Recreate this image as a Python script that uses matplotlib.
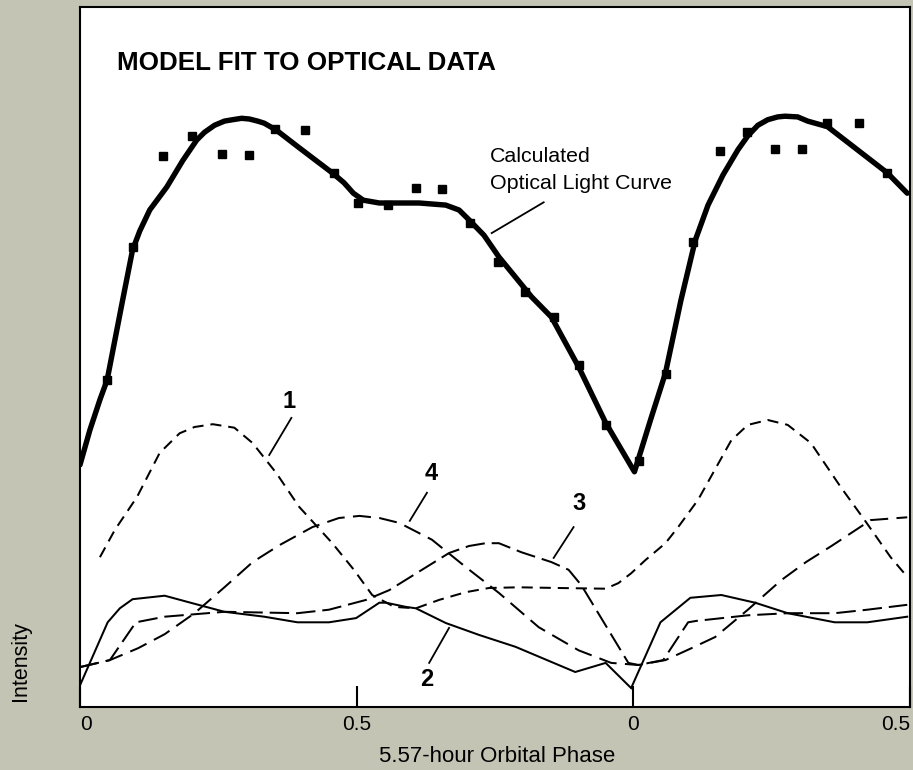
import matplotlib
matplotlib.use("Agg")
import matplotlib.pyplot as plt

# ---------------- data (phase, intensity in arbitrary units) ----------------
fit_phase = [0.000, 0.018, 0.036, 0.049, 0.063, 0.077, 0.095, 0.108, 0.126, 0.157,
             0.186, 0.211, 0.225, 0.243, 0.261, 0.276, 0.292, 0.306, 0.321, 0.333,
             0.355, 0.396, 0.456, 0.477, 0.494, 0.512, 0.541, 0.613, 0.661, 0.685,
             0.703, 0.730, 0.757, 0.784, 0.816, 0.852, 0.901, 0.950, 1.002, 1.031,
             1.058, 1.086, 1.112, 1.135, 1.162, 1.189, 1.207, 1.225, 1.243, 1.261,
             1.274, 1.297, 1.315, 1.333, 1.351, 1.405, 1.459, 1.495]
fit_int = [34.6, 39.6, 43.9, 46.7, 52.4, 58.1, 65.3, 68.0, 71.0, 74.3,
           78.1, 81.0, 82.1, 83.1, 83.7, 83.9, 84.1, 84.0, 83.7, 83.4,
           82.4, 79.9, 76.3, 74.9, 73.4, 72.4, 72.0, 72.0, 71.7, 71.0,
           69.6, 67.4, 64.3, 61.7, 58.6, 55.7, 48.6, 40.6, 33.6, 41.0,
           47.7, 58.1, 66.7, 71.7, 76.0, 79.6, 81.6, 83.1, 83.9, 84.3,
           84.4, 84.3, 83.7, 83.3, 82.9, 79.6, 76.3, 73.4]

obs_phase = [0.049, 0.095, 0.150, 0.202, 0.256, 0.305, 0.353, 0.407, 0.459, 0.503,
             0.557, 0.607, 0.654, 0.705, 0.755, 0.804, 0.856, 0.901, 0.950, 1.011,
             1.059, 1.108, 1.157, 1.205, 1.256, 1.305, 1.350, 1.407, 1.458]
obs_int = [46.7, 65.7, 78.7, 81.6, 79.0, 78.9, 82.6, 82.4, 76.3, 72.0,
           71.7, 74.1, 74.0, 69.1, 63.6, 59.3, 55.7, 48.9, 40.3, 35.1,
           47.6, 66.4, 79.4, 82.1, 79.7, 79.7, 83.4, 83.4, 76.3]

c1_phase = [0.036, 0.063, 0.103, 0.144, 0.180, 0.207, 0.240, 0.279, 0.312, 0.355,
            0.396, 0.456, 0.495, 0.528, 0.568, 0.607, 0.649, 0.697, 0.739, 0.793,
            0.865, 0.950, 0.973, 0.996, 1.022, 1.058, 1.081, 1.117, 1.177, 1.207,
            1.243, 1.279, 1.321, 1.375, 1.418, 1.465, 1.495]
c1_int = [21.4, 25.3, 30.0, 36.3, 39.1, 40.0, 40.4, 39.9, 37.7, 33.4,
          28.6, 23.4, 19.6, 16.0, 14.3, 14.1, 15.3, 16.4, 17.0, 17.1,
          17.0, 16.9, 17.7, 19.1, 21.0, 23.4, 25.7, 29.6, 38.1, 40.3,
          41.0, 40.3, 37.7, 31.4, 26.7, 21.4, 18.6]

c2_phase = [0.000, 0.050, 0.072, 0.095, 0.153, 0.195, 0.261, 0.333, 0.393, 0.450,
            0.499, 0.541, 0.553, 0.589, 0.607, 0.661, 0.721, 0.787, 0.895, 0.950,
            0.996, 1.049, 1.103, 1.159, 1.220, 1.279, 1.364, 1.423, 1.495]
c2_int = [3.1, 12.1, 14.1, 15.4, 15.9, 15.0, 13.6, 12.9, 12.1, 12.1,
          12.7, 14.9, 14.9, 14.3, 14.1, 12.0, 10.3, 8.6, 5.0, 6.3,
          2.7, 12.1, 15.6, 16.0, 14.9, 13.4, 12.1, 12.1, 12.9]

c3_phase = [0.000, 0.054, 0.101, 0.153, 0.261, 0.393, 0.450, 0.517, 0.559, 0.618,
            0.667, 0.703, 0.733, 0.757, 0.798, 0.852, 0.883, 0.906, 0.991, 1.009,
            1.054, 1.099, 1.114, 1.207, 1.279, 1.364, 1.423, 1.495]
c3_int = [5.7, 6.7, 12.1, 12.9, 13.6, 13.4, 13.9, 15.3, 16.7, 19.6,
          22.0, 23.0, 23.4, 23.4, 22.1, 20.7, 19.6, 17.4, 6.3, 6.0,
          6.7, 12.1, 12.3, 13.1, 13.4, 13.4, 13.9, 14.6]

c4_phase = [0.000, 0.054, 0.105, 0.153, 0.207, 0.261, 0.312, 0.360, 0.420, 0.468,
            0.505, 0.541, 0.577, 0.636, 0.697, 0.757, 0.829, 0.901, 0.960, 1.009,
            1.058, 1.105, 1.148, 1.207, 1.267, 1.312, 1.360, 1.429, 1.495]
c4_int = [5.7, 6.7, 8.4, 10.4, 13.4, 17.1, 20.7, 23.1, 25.7, 27.0,
          27.3, 27.0, 26.3, 23.9, 20.0, 16.3, 11.4, 8.1, 6.3, 6.0,
          6.7, 8.4, 10.0, 13.9, 18.1, 20.7, 23.1, 26.7, 27.1]

tick_pos = [0, 0.5, 1.0, 1.5]
tick_labels = ["0", "0.5", "0", "0.5"]

title = "MODEL FIT TO OPTICAL DATA"
fit_label = ["Calculated", "Optical Light Curve"]
xlabel = "5.57-hour Orbital Phase"
ylabel = "Intensity"

# ---------------- styling ----------------
plt.rcParams['font.family'] = ['Liberation Sans', 'DejaVu Sans']
plt.rcParams['lines.scale_dashes'] = False
BG = '#c3c4b4'

fig = plt.figure(figsize=(9.13, 7.70), dpi=100, facecolor=BG)
ax = fig.add_axes([80 / 913, 63 / 770, 830 / 913, 700 / 770])
ax.set_facecolor('white')
ax.set_xlim(0, 830 / 555)
ax.set_ylim(0, 100)

for s in ax.spines.values():
    s.set_linewidth(1.5)
    s.set_color('black')

comp_lw = 1.45
ax.plot(c1_phase, c1_int, color='black', lw=comp_lw, dashes=(8, 5))
ax.plot(c2_phase, c2_int, color='black', lw=comp_lw, solid_joinstyle='miter')
ax.plot(c3_phase, c3_int, color='black', lw=comp_lw, dashes=(14, 5))
ax.plot(c4_phase, c4_int, color='black', lw=comp_lw, dashes=(13, 6))

ax.plot(fit_phase, fit_int, color='black', lw=3.9, solid_joinstyle='round',
        solid_capstyle='round')
ax.plot(obs_phase, obs_int, ls='none', marker='s', ms=6.3, color='black')

# labels for components
lab_kw = dict(fontsize=17, fontweight='bold', ha='center', va='center')
ax.text(0.378, 43.6, "1", **lab_kw)
ax.text(0.634, 33.4, "4", **lab_kw)
ax.text(0.901, 29.0, "3", **lab_kw)
ax.text(0.627, 3.9, "2", **lab_kw)
lead_kw = dict(color='black', lw=1.3)
ax.plot([0.382, 0.342], [41.3, 36.0], **lead_kw)
ax.plot([0.627, 0.596], [30.6, 26.6], **lead_kw)
ax.plot([0.892, 0.856], [25.7, 21.3], **lead_kw)
ax.plot([0.667, 0.631], [11.3, 6.3], **lead_kw)
ax.plot([0.838, 0.744], [72.1, 67.7], **lead_kw)

ax.text(37 / 830, (707 - 70) / 700, title, transform=ax.transAxes,
        fontsize=18.7, fontweight='bold', ha='left', va='baseline')
ax.text(410 / 830, (707 - 162) / 700, fit_label[0], transform=ax.transAxes,
        fontsize=15.4, ha='left', va='baseline')
ax.text(410 / 830, (707 - 189) / 700, fit_label[1], transform=ax.transAxes,
        fontsize=15.4, ha='left', va='baseline')

ax.set_yticks([])
ax.set_xticks(tick_pos)
ax.set_xticklabels(tick_labels, fontsize=15)
ax.tick_params(axis='x', direction='in', length=15, width=1.5, pad=6)
lbls = ax.get_xticklabels()
lbls[0].set_ha('left')
lbls[-1].set_ha('right')

ax.set_xlabel(xlabel, fontsize=16)
ax.xaxis.set_label_coords((497.5 - 80) / 830, (707 - 756) / 700)
ax.xaxis.label.set_va('center')
ax.set_ylabel(ylabel, fontsize=15.5)
ax.yaxis.set_label_coords((20 - 80) / 830, (707 - 661) / 700)
ax.yaxis.label.set_va('center')

fig.savefig("out.png", dpi=100, facecolor=BG)
